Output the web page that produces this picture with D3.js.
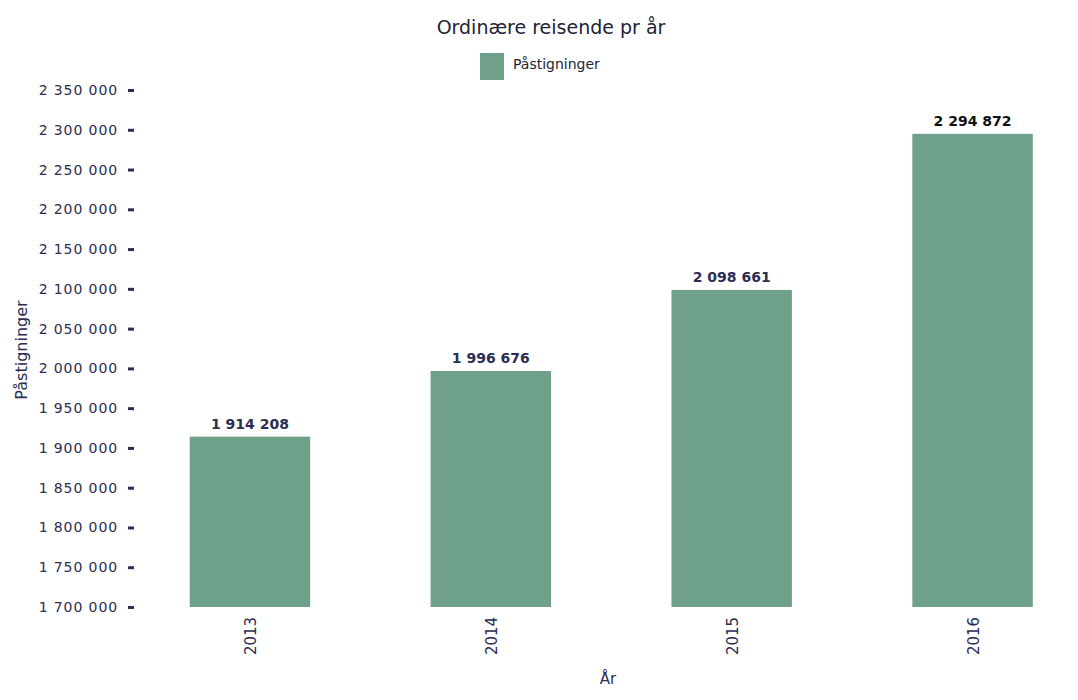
<!DOCTYPE html>
<html>
<head>
<meta charset="utf-8">
<script src="https://cdn.jsdelivr.net/npm/d3@7"></script>
<style>
  body { margin: 0; background: #fff; }
  text { font-family: "DejaVu Sans", Verdana, sans-serif; }
</style>
</head>
<body>
<script>
// Data
const years = ["2013", "2014", "2015", "2016"];
const boardings = [1914208, 1996676, 2098661, 2294872];
const yTicks = [1700000, 1750000, 1800000, 1850000, 1900000, 1950000, 2000000,
                2050000, 2100000, 2150000, 2200000, 2250000, 2300000, 2350000];

const W = 1078, H = 700;
const barColor = "#6fa08a";
const textColor = "#2b2d52";

const svg = d3.select("body")
              .append("svg")
              .attr("width", W)
              .attr("height", H);

// Scales
const x = d3.scaleBand()
            .domain(years)
            .range([129.5, 1093])
            .paddingInner(0.5)
            .paddingOuter(0.25);

const y = d3.scaleLinear()
            .domain([1700000, 2350000])
            .range([607, 90]);

const fmt = v => d3.format(",")(v).replace(/,/g, " ");

// Bars
svg.selectAll("rect.bar")
   .data(boardings)
   .enter().append("rect")
   .attr("class", "bar")
   .attr("x", (d, i) => x(years[i]))
   .attr("width", x.bandwidth())
   .attr("y", d => y(d))
   .attr("height", d => y(1700000) - y(d))
   .attr("fill", barColor);

// Value labels
svg.selectAll("text.val")
   .data(boardings)
   .enter().append("text")
   .attr("class", "val")
   .attr("x", (d, i) => x(years[i]) + x.bandwidth() / 2)
   .attr("y", d => y(d) - 8)
   .attr("text-anchor", "middle")
   .style("font-size", "14px")
   .style("font-weight", "bold")
   .attr("fill", (d, i) => i === 3 ? "#111" : textColor)
   .text(d => fmt(d));

// Y axis
const yAxis = svg.append("g")
   .attr("transform", "translate(134,0)")
   .call(d3.axisLeft(y).tickValues(yTicks).tickFormat(fmt).tickSize(6).tickPadding(10));
yAxis.select(".domain").remove();
yAxis.selectAll(".tick line").attr("stroke", textColor).attr("stroke-width", 3);
yAxis.selectAll(".tick text")
     .attr("fill", textColor)
     .style("font-size", "14px")
     .style("letter-spacing", "0.9px");

// X axis
const xAxis = svg.append("g")
   .attr("transform", "translate(0,607)")
   .call(d3.axisBottom(x).tickSize(0));
xAxis.select(".domain").remove();
xAxis.selectAll(".tick text")
     .attr("fill", textColor)
     .style("font-size", "15px")
     .attr("text-anchor", "middle")
     .attr("dy", null)
     .attr("y", 0)
     .attr("transform", "translate(6,29) rotate(-90)");

// Title
svg.append("text")
   .attr("x", 551)
   .attr("y", 34)
   .attr("text-anchor", "middle")
   .attr("fill", "#222338")
   .style("font-size", "19px")
   .text("Ordinære reisende pr år");

// Legend
svg.append("rect")
   .attr("x", 480).attr("y", 53)
   .attr("width", 24).attr("height", 27)
   .attr("fill", barColor);
svg.append("text")
   .attr("x", 513).attr("y", 69)
   .attr("fill", "#222338")
   .style("font-size", "14px")
   .text("Påstigninger");

// Axis titles
svg.append("text")
   .attr("transform", "rotate(-90)")
   .attr("x", -350)
   .attr("y", 27)
   .attr("text-anchor", "middle")
   .attr("fill", textColor)
   .style("font-size", "16px")
   .text("Påstigninger");

svg.append("text")
   .attr("x", 608)
   .attr("y", 684)
   .attr("text-anchor", "middle")
   .attr("fill", textColor)
   .style("font-size", "15px")
   .text("År");
</script>
</body>
</html>
